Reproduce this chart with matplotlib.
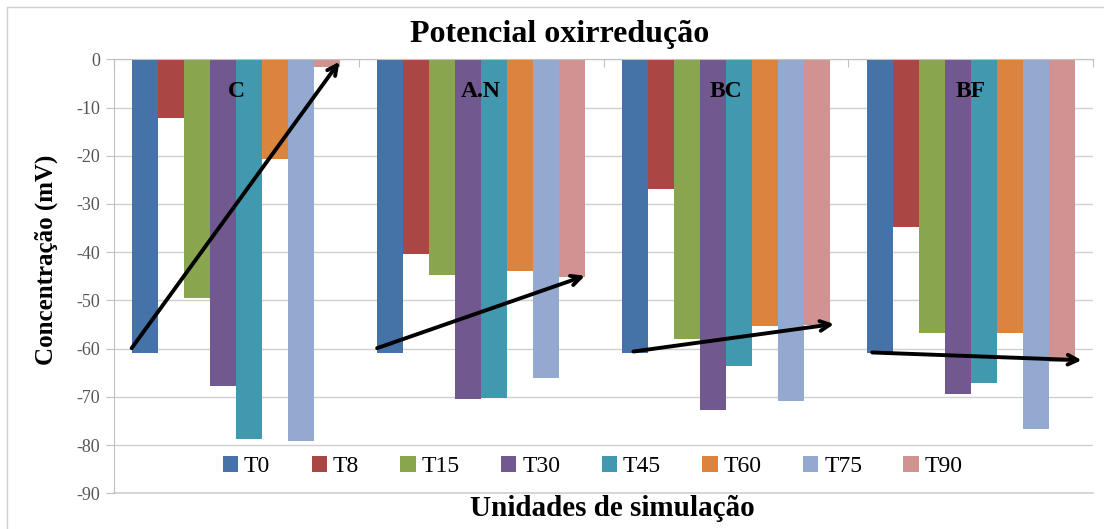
import numpy as np
import matplotlib.pyplot as plt
from matplotlib.lines import Line2D

# Redox potential per simulation unit and sampling time
units = ['C', 'A.N', 'BC', 'BF']
times = ['T0', 'T8', 'T15', 'T30', 'T45', 'T60', 'T75', 'T90']

T0 = [-61.0, -61.0, -61.0, -61.0]
T8 = [-12.2, -40.4, -26.9, -34.8]
T15 = [-49.6, -44.8, -58.1, -56.7]
T30 = [-67.8, -70.5, -72.7, -69.4]
T45 = [-78.8, -70.3, -63.5, -67.1]
T60 = [-20.7, -43.8, -55.3, -56.7]
T75 = [-79.2, -66.0, -70.9, -76.7]
T90 = [-1.7, -45.2, -55.1, -62.7]
series = [T0, T8, T15, T30, T45, T60, T75, T90]

colors = ['#4572A7', '#AA4643', '#89A54E', '#71588F',
          '#4198AF', '#DB843D', '#93A9CF', '#D19392']

# trend arrows drawn over each group: (x0, y0, x1, y1)
arrows = [(-0.428, -59.9, 0.421, -0.5),
          (0.575, -59.9, 1.424, -44.9),
          (1.622, -60.6, 2.442, -54.9),
          (2.598, -60.8, 3.454, -62.4)]

plt.rcParams['font.family'] = ['Liberation Serif', 'DejaVu Serif']
plt.rcParams['axes.unicode_minus'] = False

fig = plt.figure(figsize=(11.04, 5.29), dpi=100)
ax = fig.add_axes([0.1033, 0.0675, 0.8867, 0.8204])

x = np.arange(len(units))
w = 0.85 / len(times)
for i, (name, vals) in enumerate(zip(times, series)):
    ax.bar(x + (i - 3.5) * w, vals, w, color=colors[i], label=name,
           edgecolor='none', zorder=2)

for i, u in enumerate(units):
    ax.text(x[i], -6.6, u, ha='center', va='center', fontsize=17,
            fontweight='bold', zorder=4)

for x0, y0, x1, y1 in arrows:
    ax.annotate('', xy=(x1, y1), xytext=(x0, y0),
                arrowprops=dict(arrowstyle='->,head_length=0.7,head_width=0.35',
                                color='black', lw=2.8, shrinkA=0, shrinkB=0),
                zorder=5)

ax.set_xlim(-0.5, 3.5)
ax.set_ylim(-90, 0)
ax.set_yticks(np.arange(-90, 1, 10))
ax.grid(axis='y', color='#d0d0d0', lw=1, zorder=0)
ax.axhline(-90, color='#d0d0d0', lw=1.2, clip_on=False, zorder=0)
ax.set_axisbelow(True)

# category axis sits on the zero line at the top
ax.xaxis.tick_top()
ax.set_xticks([-0.5, 0.5, 1.5, 2.5, 3.5])
ax.set_xticklabels([])
ax.tick_params(axis='x', direction='in', length=6, color='#c0c0c0')
ax.tick_params(axis='y', direction='out', length=6, color='#c0c0c0',
               labelsize=13, labelcolor='#555555', pad=4)
for s in ['right', 'bottom']:
    ax.spines[s].set_visible(False)
ax.spines['left'].set_color('#c0c0c0')
ax.spines['top'].set_color('#c0c0c0')

ax.legend(loc='center', bbox_to_anchor=(0.489, 0.062), ncol=8, frameon=False,
          fontsize=17, handlelength=0.65, handleheight=0.65,
          handletextpad=0.25, columnspacing=1.75)

ax.set_ylabel('Concentração (mV)', fontsize=18, fontweight='bold')
ax.yaxis.set_label_coords(-0.057, 0.537)
fig.text(0.507, 0.935, 'Potencial oxirredução', ha='center', va='center',
         fontsize=23, fontweight='bold')
fig.text(0.555, 0.038, 'Unidades de simulação', ha='center', va='center',
         fontsize=21, fontweight='bold')

# chart frame
fig.add_artist(Line2D([7 / 1104, 7 / 1104], [0, 1 - 7 / 529],
                      color='#d0d0d0', lw=1, transform=fig.transFigure))
fig.add_artist(Line2D([7 / 1104, 1], [1 - 7 / 529, 1 - 7 / 529],
                      color='#d0d0d0', lw=1, transform=fig.transFigure))

fig.savefig('out.png', dpi=100)
